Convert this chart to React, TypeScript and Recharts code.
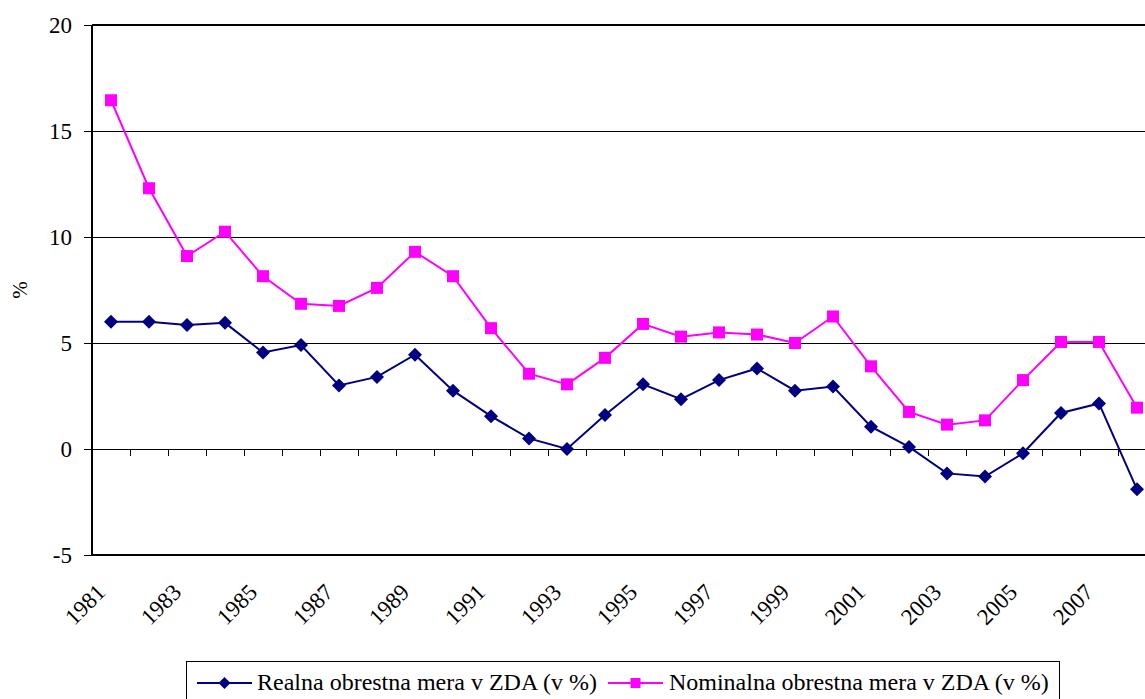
import { LineChart, Line, XAxis, YAxis, CartesianGrid, ReferenceLine, Legend } from 'recharts';

const years = [
  1981, 1982, 1983, 1984, 1985, 1986, 1987, 1988, 1989, 1990, 1991, 1992, 1993, 1994,
  1995, 1996, 1997, 1998, 1999, 2000, 2001, 2002, 2003, 2004, 2005, 2006, 2007, 2008,
];
const realRate = [
  6.0, 6.0, 5.85, 5.95, 4.55, 4.9, 3.0, 3.4, 4.45, 2.75, 1.55, 0.5, 0.0, 1.6,
  3.05, 2.35, 3.25, 3.8, 2.75, 2.95, 1.05, 0.1, -1.15, -1.3, -0.2, 1.7, 2.15, -1.9,
];
const nominalRate = [
  16.45, 12.3, 9.1, 10.25, 8.15, 6.85, 6.75, 7.6, 9.3, 8.15, 5.7, 3.55, 3.05, 4.3,
  5.9, 5.3, 5.5, 5.4, 5.0, 6.25, 3.9, 1.75, 1.15, 1.35, 3.25, 5.05, 5.05, 1.95,
];
const yTicks = [-5, 0, 5, 10, 15, 20];

const realName = 'Realna obrestna mera v ZDA (v %)';
const nominalName = 'Nominalna obrestna mera v ZDA (v %)';

const NAVY = '#000080';
const MAGENTA = '#FF00FF';
const FONT = "'Liberation Serif', 'Times New Roman', serif";
const textStyle = { fontFamily: FONT, fontSize: 23, fill: '#000' };

// each year sits in the middle of its own slot on a 0..n axis
const data = years.map((year, i) => ({ pos: i + 0.5, year, real: realRate[i], nominal: nominalRate[i] }));
const labelTicks = data.filter((_, i) => i % 2 === 0).map(d => d.pos);
const slotEdges = years.slice(1).map((_, i) => i + 1);

const Diamond = ({ cx, cy, r = 7, fill = NAVY }: any) => {
  if (cx == null || cy == null) return null;
  return <polygon points={`${cx},${cy - r} ${cx + r},${cy} ${cx},${cy + r} ${cx - r},${cy}`} fill={fill} />;
};

const Square = ({ cx, cy, r = 6, fill = MAGENTA }: any) => {
  if (cx == null || cy == null) return null;
  return <rect x={cx - r} y={cy - r} width={r * 2} height={r * 2} fill={fill} />;
};

const YearTick = ({ x, y, payload }: any) => (
  <text
    transform={`translate(${x - 10},${y + 33}) rotate(-45)`}
    textAnchor="end"
    dy="0.35em"
    style={textStyle}
  >
    {years[Math.floor(payload.value)]}
  </text>
);

const ValueTick = ({ x, y, payload }: any) => (
  <text x={x} y={y} textAnchor="end" dy="0.35em" style={textStyle}>
    {payload.value}
  </text>
);

const LegendIcon = ({ color, square }: { color: string; square?: boolean }) => (
  <svg width={55} height={16} style={{ display: 'block' }}>
    <line x1={0} y1={8} x2={55} y2={8} stroke={color} strokeWidth={2} />
    {square ? <Square cx={27.5} cy={8} r={5} /> : <Diamond cx={27.5} cy={8} r={6} />}
  </svg>
);

const LegendBox = () => (
  <div style={{
    boxSizing: 'border-box',
    height: 40,
    border: '1px solid #000',
    background: '#fff',
    display: 'flex',
    alignItems: 'center',
    paddingLeft: 10,
    paddingTop: 3,
    fontFamily: FONT,
    fontSize: 24,
    color: '#000',
    whiteSpace: 'nowrap',
  }}>
    <LegendIcon color={NAVY} />
    <span style={{ marginLeft: 5, marginRight: 11 }}>{realName}</span>
    <LegendIcon color={MAGENTA} square />
    <span style={{ marginLeft: 6 }}>{nominalName}</span>
  </div>
);

const App = () => {
  return (
    <div style={{ position: 'fixed', left: 0, top: 0, width: 1145, height: 699, overflow: 'hidden', background: '#fff' }}>
      <LineChart width={1170} height={699} data={data} margin={{ top: 25, right: 14, bottom: 0, left: 0 }}>
        <CartesianGrid vertical={false} stroke="#000" strokeWidth={1} shapeRendering="crispEdges" />
        <XAxis
          dataKey="pos"
          type="number"
          domain={[0, years.length]}
          ticks={labelTicks}
          interval={0}
          height={104}
          tickSize={0}
          tickMargin={0}
          tickLine={false}
          axisLine={{ stroke: '#000', strokeWidth: 2 }}
          tick={<YearTick />}
        />
        <YAxis
          domain={[-5, 20]}
          ticks={yTicks}
          width={92}
          tickSize={8}
          tickMargin={12}
          axisLine={{ stroke: '#000', strokeWidth: 2 }}
          tickLine={{ stroke: '#000', strokeWidth: 1, shapeRendering: 'crispEdges' }}
          tick={<ValueTick />}
          label={{
            content: ({ viewBox }: any) => (
              <text
                x={viewBox.x + 20}
                y={viewBox.y + viewBox.height / 2}
                transform={`rotate(-90, ${viewBox.x + 20}, ${viewBox.y + viewBox.height / 2})`}
                textAnchor="middle"
                dy="0.35em"
                style={{ ...textStyle, fontSize: 21 }}
              >
                %
              </text>
            ),
          }}
        />
        <ReferenceLine y={20} stroke="#000" strokeWidth={2} />
        <ReferenceLine y={0} stroke="#000" strokeWidth={1} shapeRendering="crispEdges" />
        {slotEdges.map(k => (
          <ReferenceLine
            key={k}
            segment={[{ x: k, y: 0 }, { x: k, y: -0.33 }]}
            stroke="#000"
            strokeWidth={1}
            shapeRendering="crispEdges"
          />
        ))}
        <Legend
          verticalAlign="bottom"
          content={<LegendBox />}
          wrapperStyle={{ left: 186, top: 661, width: 874 }}
        />
        <Line
          type="linear"
          dataKey="real"
          name={realName}
          stroke={NAVY}
          strokeWidth={2}
          dot={(p: any) => <Diamond key={`r${p.index}`} cx={p.cx} cy={p.cy} />}
          activeDot={false}
          isAnimationActive={false}
        />
        <Line
          type="linear"
          dataKey="nominal"
          name={nominalName}
          stroke={MAGENTA}
          strokeWidth={2}
          dot={(p: any) => <Square key={`n${p.index}`} cx={p.cx} cy={p.cy} />}
          activeDot={false}
          isAnimationActive={false}
        />
      </LineChart>
    </div>
  );
};

export default App;
